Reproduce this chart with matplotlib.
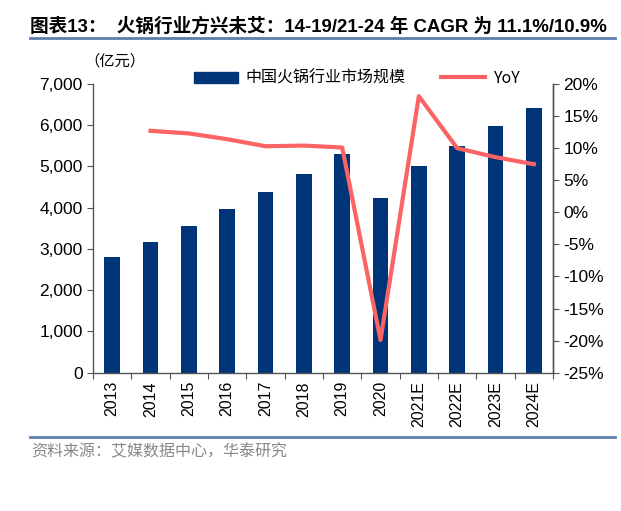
import matplotlib.pyplot as plt
from matplotlib.lines import Line2D
from matplotlib.patches import Patch
from matplotlib.ticker import FuncFormatter

years = ["2013", "2014", "2015", "2016", "2017", "2018", "2019", "2020",
         "2021E", "2022E", "2023E", "2024E"]
market_size = [2815, 3180, 3560, 3965, 4378, 4823, 5300, 4248, 5017, 5502, 5980, 6425]
yoy_years = years[1:]
yoy = [12.7, 12.3, 11.4, 10.3, 10.4, 10.1, -19.9, 18.1, 10.0, 8.6, 7.5]

bar_color = "#003478"
line_color = "#fa6464"
num_font = ["Liberation Sans", "Noto Sans CJK SC"]
cjk_font = ["Noto Sans CJK SC", "DejaVu Sans"]

fig = plt.figure(figsize=(6.21, 5.11), dpi=100)
ax = fig.add_axes([0.1498, 0.2706, 0.7407, 0.565])

x = list(range(len(years)))
ax.bar(x, market_size, width=0.41, color=bar_color, zorder=2)
ax.set_xlim(-0.5, len(years) - 0.5)
ax.set_ylim(0, 7000)
ax.set_yticks(range(0, 7001, 1000))
ax.yaxis.set_major_formatter(FuncFormatter(lambda v, p: f"{int(v):,}"))
ax.set_xticks([i - 0.5 for i in range(len(years) + 1)], minor=False)
ax.set_xticklabels([])
ax.set_xticks(x, minor=True)
ax.set_xticklabels(years, minor=True, rotation=90, fontsize=11.5, family=num_font)
ax.tick_params(axis="x", which="minor", length=0, pad=6)
ax.tick_params(axis="x", which="major", length=4, direction="out", color="#555555")
ax.tick_params(axis="y", length=4, direction="out", color="#555555", labelsize=12.5)
for lab in ax.get_yticklabels():
    lab.set_family(num_font)

ax2 = ax.twinx()
ax2.plot([years.index(y) for y in yoy_years], yoy, color=line_color, lw=3, zorder=3)
ax2.set_ylim(-25, 20)
ax2.set_yticks(range(-25, 21, 5))
ax2.yaxis.set_major_formatter(FuncFormatter(lambda v, p: f"{int(v)}%"))
ax2.tick_params(axis="y", length=4, direction="out", color="#555555", labelsize=12.5)
for lab in ax2.get_yticklabels():
    lab.set_family(num_font)

for a in (ax, ax2):
    a.spines["top"].set_visible(False)
    for s in ("left", "right", "bottom"):
        a.spines[s].set_color("#555555")
        a.spines[s].set_linewidth(1.0)
ax2.spines["left"].set_visible(False)
ax2.spines["bottom"].set_visible(False)

# Legend
handles = [Patch(color=bar_color), Line2D([0], [0], color=line_color, lw=3)]
fig.legend(handles, ["中国火锅行业市场规模", "YoY"], ncol=2, frameon=False,
           loc="center", bbox_to_anchor=(0.574, 0.847),
           prop={"family": cjk_font, "size": 11.5},
           handlelength=2.75, columnspacing=2.2, handletextpad=0.5)

fig.text(0.136, 0.881, "（亿元）", family=cjk_font, fontsize=11, va="center", ha="left")

# Title and rules
fig.text(0.048, 0.949, "图表13：  火锅行业方兴未艾：14-19/21-24 年 CAGR 为 11.1%/10.9%",
         family=num_font, fontsize=13.4, fontweight="bold", va="center", ha="left")
fig.add_artist(Line2D([0.048, 0.99], [0.925, 0.925], color="#5b7fae", lw=2))
fig.add_artist(Line2D([0.048, 0.99], [0.144, 0.144], color="#5b7fae", lw=2))
fig.text(0.05, 0.115, "资料来源：艾媒数据中心，华泰研究", family=cjk_font,
         fontsize=11.5, color="#888888", va="center", ha="left")

fig.savefig("out.png", dpi=100)
